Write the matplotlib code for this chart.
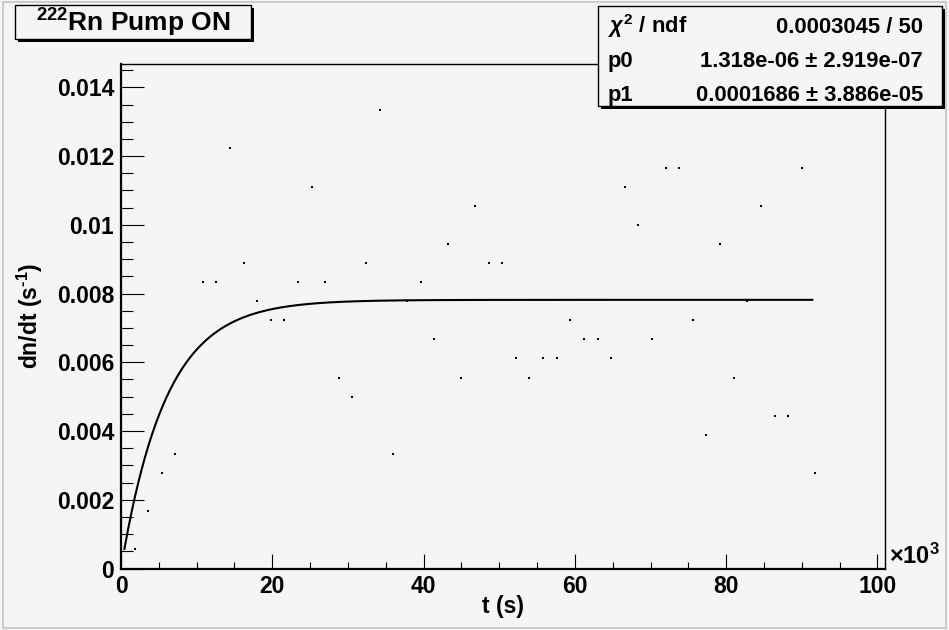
import matplotlib

matplotlib.use("Agg")
import matplotlib.pyplot as plt
import numpy as np
from matplotlib.patches import Rectangle

# data points: time (s) and rate dn/dt (1/s)
t_s = [0, 1800, 3600, 5400, 7200, 9000, 10800, 12600, 14400, 16200,
       18000, 19800, 21600, 23400, 25200, 27000, 28800, 30600, 32400, 34200,
       36000, 37800, 39600, 41400, 43200, 45000, 46800, 48600, 50400, 52200,
       54000, 55800, 57600, 59400, 61200, 63000, 64800, 66600, 68400, 70200,
       72000, 73800, 75600, 77400, 79200, 81000, 82800, 84600, 86400, 88200,
       90000, 91800]
rate = [0.0, 0.000556, 0.001667, 0.002778, 0.003333, 0.0, 0.008333, 0.008333,
        0.012222, 0.008889, 0.007778, 0.007222, 0.007222, 0.008333, 0.011111,
        0.008333, 0.005556, 0.005, 0.008889, 0.013333, 0.003333, 0.007778,
        0.008333, 0.006667, 0.009444, 0.005556, 0.010556, 0.008889, 0.008889,
        0.006111, 0.005556, 0.006111, 0.006111, 0.007222, 0.006667, 0.006667,
        0.006111, 0.011111, 0.01, 0.006667, 0.011667, 0.011667, 0.007222,
        0.003889, 0.009444, 0.005556, 0.007778, 0.010556, 0.004444, 0.004444,
        0.011667, 0.002778]

# fit result shown in the stats box
p0 = 1.318e-06
p1 = 0.0001686
fit_range = (450, 91400)
stats_rows = [(r"$\chi^{2}$ / ndf", "0.0003045 / 50"),
              ("p0", "1.318e-06 ± 2.919e-07"),
              ("p1", "0.0001686 ± 3.886e-05")]

BG = "#f5f5f5"
W, H = 949, 630

plt.rcParams["font.family"] = ["Liberation Sans", "DejaVu Sans"]
plt.rcParams["font.weight"] = "bold"
plt.rcParams["mathtext.fontset"] = "custom"
plt.rcParams["mathtext.rm"] = "Liberation Sans:bold"
plt.rcParams["mathtext.bf"] = "Liberation Sans:bold"
plt.rcParams["mathtext.it"] = "Liberation Sans:italic"


def fx(px):
    return px / W


def fy(py):
    return 1 - py / H


def box(fig, x0, y0, x1, y1, sh=3):
    # ROOT style pave with a drop shadow (pixel coords, top-left origin)
    fig.patches.append(Rectangle((fx(x0 + sh), fy(y1 + sh)), fx(x1 - x0), (y1 - y0) / H,
                                 transform=fig.transFigure, facecolor="black",
                                 edgecolor="black", lw=0, zorder=5))
    fig.patches.append(Rectangle((fx(x0), fy(y1)), fx(x1 - x0), (y1 - y0) / H,
                                 transform=fig.transFigure, facecolor=BG,
                                 edgecolor="black", lw=1.0, zorder=6))


fig = plt.figure(figsize=(W / 100, H / 100), dpi=100, facecolor=BG)
ax = fig.add_axes([fx(121), fy(568.5), fx(885 - 121), (568.5 - 64) / H])
ax.set_facecolor(BG)

ax.plot(t_s, rate, "s", color="black", ms=1.8, mew=0, clip_on=True, zorder=3)
tt = np.linspace(*fit_range, 600)
ax.plot(tt, p0 / p1 * (1 - np.exp(-p1 * tt)), color="black", lw=1.5, zorder=4)

ax.set_xlim(0, 101000)
ax.set_ylim(0, 0.01468)
ax.set_xticks(np.arange(0, 100001, 20000))
ax.set_xticklabels([f"{int(v / 1000)}" for v in np.arange(0, 100001, 20000)])
ax.set_xticks(np.arange(0, 100001, 5000), minor=True)
yt = np.arange(0, 0.0141, 0.002)
ax.set_yticks(yt)
ax.set_yticklabels(["0" if v == 0 else f"{v:.3f}".rstrip("0") for v in yt])
ax.set_yticks(np.arange(0, 0.0146, 0.0005), minor=True)

ax.tick_params(axis="both", which="both", direction="in", labelsize=16.5, width=0.8)
ax.tick_params(axis="y", which="major", length=16.5, pad=5)
ax.tick_params(axis="y", which="minor", length=8.6)
ax.tick_params(axis="x", which="major", length=10.8, pad=5)
ax.tick_params(axis="x", which="minor", length=5.4)
for s in ("left", "bottom"):
    ax.spines[s].set_linewidth(1.6)
for s in ("top", "right"):
    ax.spines[s].set_linewidth(1.0)

ax.text(1.005, 0.0, r"$\times$10$^{3}$", transform=ax.transAxes, fontsize=17,
        ha="left", va="bottom")
fig.text(fx(503), fy(606), "t (s)", fontsize=16.5, ha="center", va="center")
fig.text(fx(30), fy(316), "dn/dt (s$^{\u2010 1}$)", fontsize=16.5, rotation=90,
         ha="center", va="center")

# title pave
box(fig, 15, 5, 251, 39)
fig.text(fx(133), fy(32), r"$^{222}$Rn Pump ON", fontsize=19, ha="center",
         va="baseline", zorder=7)

# stats pave
box(fig, 598, 6, 942, 106)
for i, (name, val) in enumerate(stats_rows):
    yb = 33 + 34 * i
    fig.text(fx(608), fy(yb), name, fontsize=15.8, ha="left", va="baseline", zorder=7)
    fig.text(fx(923), fy(yb), val, fontsize=15.8, ha="right", va="baseline", zorder=7)

# canvas border
fig.patches.append(Rectangle((0.003, 0.003), 0.994, 0.994, transform=fig.transFigure,
                             facecolor="none", edgecolor="#c4c4c4", lw=1.2, zorder=0))

fig.savefig("out.png", dpi=100, facecolor=BG)
